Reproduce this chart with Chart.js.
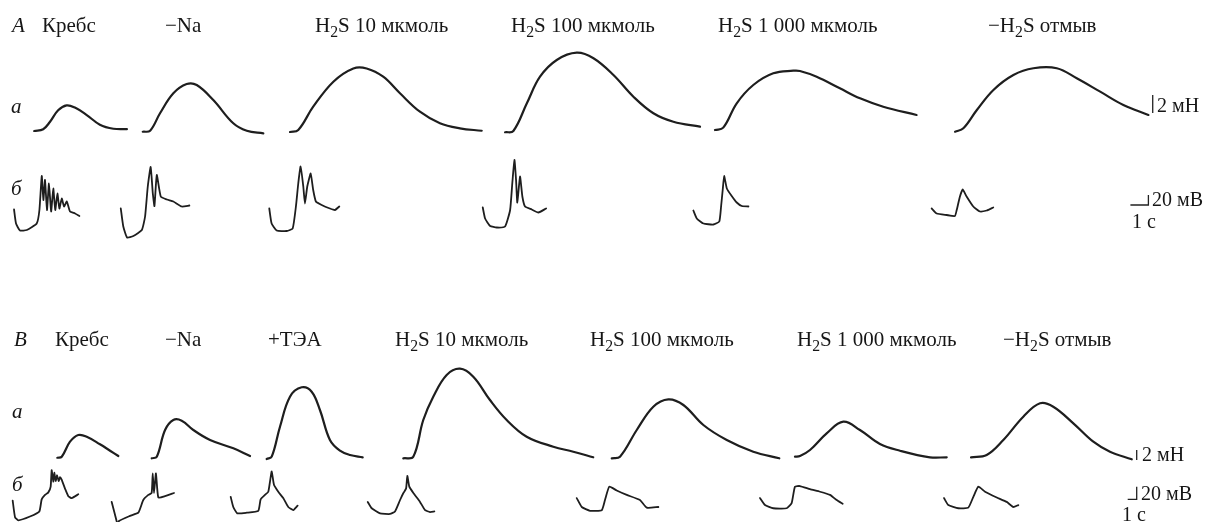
<!DOCTYPE html>
<html><head><meta charset="utf-8">
<script src="https://cdn.jsdelivr.net/npm/chart.js"></script>
<style>
html,body{margin:0;padding:0;background:#fff;}
#wrap{position:relative;width:1206px;height:522px;overflow:hidden;background:#fff;}
#c{position:absolute;left:0;top:0;}
.lbl{position:absolute;white-space:nowrap;font-family:"Liberation Serif","Times New Roman",serif;color:#161616;line-height:1;}
.lbl sub{font-size:0.75em;vertical-align:-0.33em;line-height:0;}
.it{font-style:italic;}
</style></head><body>
<div id="wrap"><canvas id="c" width="1206" height="522"></canvas></div>
<script>
// ---------- labels ----------
const panelLetters = ['A', 'B'];
const rowLetters = ['a', 'б'];
const titlesA = ['Кребс', '−Na', 'H<sub>2</sub>S 10 мкмоль', 'H<sub>2</sub>S 100 мкмоль', 'H<sub>2</sub>S 1 000 мкмоль', '−H<sub>2</sub>S отмыв'];
const titlesB = ['Кребс', '−Na', '+ТЭА', 'H<sub>2</sub>S 10 мкмоль', 'H<sub>2</sub>S 100 мкмоль', 'H<sub>2</sub>S 1 000 мкмоль', '−H<sub>2</sub>S отмыв'];
const unitLabels = ['2 мН', '20 мВ', '1 с'];
// scale bar sizes (values)
const barForce = 2;   // мН
const barVolt = 20;   // мВ
const barTime = 1;    // с

// ---------- data: [time (s), value] ----------
// Panel A, row a: force, мН
const forceA_krebs = [[0,0],[0.5,0.2],[0.87,1.0],[1.33,2.3],[1.8,2.85],[2.26,2.6],[2.9,1.8],[3.65,0.7],[4.4,0.25],[5.15,0.2]];
const forceA_na    = [[0,-0.08],[0.41,0.03],[0.96,1.97],[1.7,4.19],[2.44,5.22],[3.0,5.11],[3.92,3.44],[5.03,0.86],[5.78,0.03],[6.7,-0.26]];
const forceA_h10   = [[0,-0.11],[0.46,0.11],[1.29,2.7],[2.41,5.48],[3.52,6.95],[4.26,6.95],[5.18,6.03],[6.11,4.19],[7.22,2.14],[8.33,0.86],[9.44,0.3],[10.65,0.03]];
const forceA_h100  = [[0,-0.14],[0.46,0],[1.21,3.08],[1.94,6.03],[2.87,7.89],[3.98,8.7],[4.91,8.08],[6.02,6.22],[7.13,3.81],[8.24,1.97],[9.35,1.03],[10.83,0.48]];
const forceA_h1000 = [[0,0.11],[0.46,0.37],[1.21,3.08],[2.13,5.11],[3.24,6.41],[4.35,6.7],[4.72,6.67],[5.65,6.03],[6.94,4.74],[8.06,3.63],[9.35,2.7],[11.2,1.78]];
const forceA_wash  = [[0,-0.08],[0.46,0.3],[1.21,2.33],[2.13,4.56],[3.24,6.22],[4.35,6.97],[5.65,6.97],[6.76,5.86],[8.06,4.37],[9.35,2.89],[10.74,1.78]];
// Panel A, row б: membrane potential, мВ
const voltA_krebs = [[0,1],[0.11,-27],[0.33,-41],[0.71,-40],[1.26,-27],[1.41,0],[1.54,68],[1.63,20],[1.72,60],[1.83,0],[1.94,53],[2.06,-3],[2.18,43],[2.29,0],[2.41,33],[2.52,3],[2.65,23],[2.78,7],[2.93,17],[3.11,-3],[3.39,-7],[3.63,-12]];
const voltA_na    = [[0,3],[0.14,-33],[0.35,-55],[0.7,-52],[1.17,-40],[1.35,-13],[1.5,47],[1.66,86],[1.78,33],[1.87,8],[2.0,70],[2.22,27],[2.56,21],[2.92,17],[3.39,7],[3.81,9]];
const voltA_h10   = [[0,3],[0.13,-27],[0.41,-41],[0.97,-42],[1.3,-37],[1.48,7],[1.61,53],[1.74,87],[1.89,47],[1.98,13],[2.11,47],[2.3,73],[2.44,40],[2.59,17],[2.91,10],[3.37,3],[3.65,0],[3.89,7]];
const voltA_h100  = [[0,5],[0.13,-17],[0.41,-32],[0.78,-35],[1.24,-33],[1.52,0],[1.64,53],[1.76,100],[1.85,60],[1.92,15],[2.07,67],[2.2,27],[2.35,7],[2.72,1],[3.09,-5],[3.52,3]];
const voltA_h1000 = [[0,-1],[0.19,-17],[0.56,-27],[1.11,-29],[1.44,-23],[1.54,7],[1.63,40],[1.71,68],[1.86,43],[2.13,28],[2.41,15],[2.69,8],[3.06,7]];
const voltA_wash  = [[0,3],[0.28,-7],[0.83,-10],[1.29,-12],[1.39,0],[1.57,27],[1.72,41],[1.94,27],[2.31,7],[2.68,-3],[3.06,-1],[3.42,5]];
// Panel B, row a: force, мН
const forceB_krebs = [[0,-0.14],[0.49,0.06],[1.41,3.06],[2.33,4.4],[3.27,4.06],[4.74,2.54],[5.86,1.26],[6.78,0.2]];
const forceB_na    = [[0,-0.26],[0.56,0.06],[1.48,5.4],[2.4,7.4],[3.33,7.26],[4.62,5.4],[6.48,3.4],[9.07,1.74],[10.92,0.2]];
const forceB_tea   = [[0,-0.4],[0.56,0.06],[1.48,6.06],[2.59,12.06],[3.89,13.94],[5.0,13.06],[5.92,9.4],[7.03,3.4],[8.14,1.26],[9.26,0.4],[10.67,-0.06]];
const forceB_h10   = [[0,-0.26],[1.11,0.06],[2.22,7.4],[3.33,12.06],[4.82,16.4],[6.3,17.66],[7.78,16.06],[9.63,11.4],[11.49,7.4],[13.71,4.06],[16.67,2.06],[18.89,1.06],[21.11,-0.06]];
const forceB_h100  = [[0,-0.26],[0.92,0.06],[2.78,5.4],[4.62,10.06],[6.29,11.54],[7.96,10.4],[10.18,6.4],[12.78,3.4],[15.73,1.06],[18.62,-0.26]];
const forceB_h1000 = [[0,0.06],[0.56,0.2],[1.67,1.4],[3.52,4.74],[5.37,7.06],[7.22,5.4],[9.44,2.6],[11.67,1.26],[15.0,-0.06],[16.86,-0.06]];
const forceB_wash  = [[0,-0.06],[1.74,0.4],[3.59,3.4],[5.81,8.06],[7.67,10.74],[9.14,10.06],[11.37,6.74],[13.59,3.06],[15.44,1.06],[17.86,-0.46]];
// Panel B, row б: membrane potential, мВ
const voltB_krebs = [[0,-1],[0.26,-27],[0.62,-32],[1.92,-26],[2.96,-18],[3.22,1],[3.59,8],[3.96,12],[4.22,21],[4.33,47],[4.51,29],[4.62,43],[4.78,30],[4.92,39],[5.11,30],[5.26,36],[5.44,32],[5.81,18],[6.18,6],[6.56,3],[7.29,9]];
const voltB_na    = [[0,-3],[0.56,-34],[0.64,-41],[0.81,-33],[2.03,-25],[2.96,-20],[3.51,0],[4.07,8],[4.44,11],[4.56,42],[4.7,11],[4.92,42],[5.18,4],[5.92,6],[6.92,11]];
const voltB_tea   = [[0,5],[0.29,-11],[0.73,-21],[1.78,-20],[3.07,-17],[3.33,1],[3.81,8],[4.18,13],[4.37,29],[4.56,45],[4.81,24],[5.29,13],[5.84,3],[6.4,-11],[6.96,-16],[7.44,-9]];
const voltB_h10   = [[0,-3],[0.44,-13],[1.37,-21],[2.48,-22],[3.03,-18],[3.59,0],[3.96,11],[4.26,18],[4.4,38],[4.62,21],[5.07,11],[5.81,-3],[6.37,-16],[6.92,-19],[7.4,-18]];
const voltB_h100  = [[0,3],[0.56,-11],[1.48,-17],[2.78,-16],[3.14,0],[3.62,21],[4.44,15],[5.56,8],[7.03,0],[7.78,-12],[9.07,-11]];
const voltB_h1000 = [[0,3],[0.56,-8],[1.48,-13],[2.97,-13],[3.52,-5],[3.89,21],[4.44,22],[5.56,17],[6.67,13],[7.78,8],[8.52,0],[9.19,-6]];
const voltB_wash  = [[0,3],[0.48,-8],[1.59,-13],[2.7,-12],[3.26,5],[3.81,21],[4.56,13],[5.86,4],[6.97,-3],[7.7,-11],[8.26,-8]];

// ---------- layout (positions / styles, not data) ----------
const W = 1206, H = 522;
const FONT = 21;
const layout = {
  A: { pxPerSec: 18, forceBase: 131, forcePx: 9, voltBase: 210, voltPx: 0.5,
       forceStart: [1.9, 7.93, 16.11, 28.06, 39.72, 53.06],
       voltStart:  [0.78, 6.71, 14.96, 26.82, 38.52, 51.76],
       forceBar: { t: 64.04, v0: 2 }, voltBar: { t: 63.8, v0: 10 },
       titleY: 33, titleX: [42, 165, 315, 511, 718, 988], letterX: 12,
       rowX: 11, rowY: [114, 196],
       unitPos: [[1157, 112], [1152, 206], [1132, 228]] },
  B: { pxPerSec: 9, forceBase: 457, forcePx: 5, voltBase: 500, voltPx: 0.635,
       forceStart: [6.37, 16.86, 29.63, 44.81, 67.97, 88.33, 107.89],
       voltStart:  [1.41, 12.41, 25.63, 40.86, 64.08, 84.44, 104.89],
       forceBar: { t: 126.3, v0: -0.6 }, voltBar: { t: 126.3, v0: 1 },
       titleY: 347, titleX: [55, 165, 268, 395, 590, 797, 1003], letterX: 14,
       rowX: 12, rowY: [419, 492],
       unitPos: [[1142, 461], [1141, 500], [1122, 521]] }
};

const forceA = [forceA_krebs, forceA_na, forceA_h10, forceA_h100, forceA_h1000, forceA_wash];
const voltA  = [voltA_krebs, voltA_na, voltA_h10, voltA_h100, voltA_h1000, voltA_wash];
const forceB = [forceB_krebs, forceB_na, forceB_tea, forceB_h10, forceB_h100, forceB_h1000, forceB_wash];
const voltB  = [voltB_krebs, voltB_na, voltB_tea, voltB_h10, voltB_h100, voltB_h1000, voltB_wash];

const INK = '#1e1e1e';
const datasets = [];
function addTrace(series, start, xId, yId, kind) {
  datasets.push({
    data: series.map(([t, v]) => ({ x: start + t, y: v })),
    xAxisID: xId, yAxisID: yId, showLine: true, pointRadius: 0, fill: false,
    borderColor: INK, borderWidth: kind === 'force' ? 2.2 : 1.8,
    tension: kind === 'force' ? 0.38 : 0.15,
    borderJoinStyle: 'round', borderCapStyle: 'round'
  });
}
function addBar(points, xId, yId) {
  datasets.push({ data: points, xAxisID: xId, yAxisID: yId, showLine: true, pointRadius: 0,
    fill: false, borderColor: '#222', borderWidth: 1.3, tension: 0 });
}
forceA.forEach((s, i) => addTrace(s, layout.A.forceStart[i], 'xA', 'yAa', 'force'));
voltA.forEach((s, i)  => addTrace(s, layout.A.voltStart[i],  'xA', 'yAb', 'volt'));
forceB.forEach((s, i) => addTrace(s, layout.B.forceStart[i], 'xB', 'yBa', 'force'));
voltB.forEach((s, i)  => addTrace(s, layout.B.voltStart[i],  'xB', 'yBb', 'volt'));
// scale bars
for (const [p, xId, yF, yV] of [['A', 'xA', 'yAa', 'yAb'], ['B', 'xB', 'yBa', 'yBb']]) {
  const L = layout[p];
  addBar([{ x: L.forceBar.t, y: L.forceBar.v0 }, { x: L.forceBar.t, y: L.forceBar.v0 + barForce }], xId, yF);
  addBar([{ x: L.voltBar.t - barTime, y: L.voltBar.v0 }, { x: L.voltBar.t, y: L.voltBar.v0 },
          { x: L.voltBar.t, y: L.voltBar.v0 + barVolt }], xId, yV);
}

function yScale(base, px) { return { type: 'linear', axis: 'y', display: false, min: (base - H) / px, max: base / px }; }
function xScale(pps) { return { type: 'linear', axis: 'x', display: false, min: 0, max: W / pps }; }

new Chart(document.getElementById('c'), {
  type: 'scatter',
  data: { datasets },
  options: {
    responsive: false, animation: false, devicePixelRatio: 1, events: [],
    layout: { padding: 0, autoPadding: false },
    plugins: { legend: { display: false }, tooltip: { enabled: false }, title: { display: false } },
    scales: {
      x: { display: false }, y: { display: false },
      xA: xScale(layout.A.pxPerSec), xB: xScale(layout.B.pxPerSec),
      yAa: yScale(layout.A.forceBase, layout.A.forcePx),
      yAb: yScale(layout.A.voltBase, layout.A.voltPx),
      yBa: yScale(layout.B.forceBase, layout.B.forcePx),
      yBb: yScale(layout.B.voltBase, layout.B.voltPx)
    }
  }
});

// ---------- text ----------
const wrap = document.getElementById('wrap');
function addLabel(html, x, baseline, size, cls) {
  const el = document.createElement('span');
  el.className = 'lbl' + (cls ? ' ' + cls : '');
  el.style.fontSize = size + 'px';
  el.style.left = x + 'px';
  el.style.top = (baseline - 0.8375 * size) + 'px';
  el.innerHTML = html;
  wrap.appendChild(el);
}
[['A', titlesA], ['B', titlesB]].forEach(([p, titles], pi) => {
  const L = layout[p];
  addLabel(panelLetters[pi], L.letterX, L.titleY, 21, 'it');
  titles.forEach((t, i) => addLabel(t, L.titleX[i], L.titleY, FONT));
  rowLetters.forEach((r, i) => addLabel(r, L.rowX, L.rowY[i], 21, 'it'));
  unitLabels.forEach((u, i) => addLabel(u, L.unitPos[i][0], L.unitPos[i][1], 20));
});
</script>
</body></html>
